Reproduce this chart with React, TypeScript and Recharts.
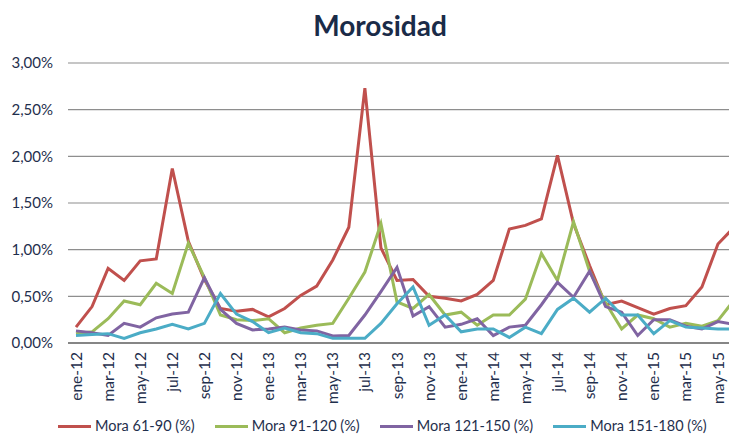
import React from "react";
import { LineChart, Line, XAxis, YAxis, CartesianGrid } from "recharts";

const months = [
  "ene-12","feb-12","mar-12","abr-12","may-12","jun-12","jul-12","ago-12","sep-12","oct-12","nov-12","dic-12",
  "ene-13","feb-13","mar-13","abr-13","may-13","jun-13","jul-13","ago-13","sep-13","oct-13","nov-13","dic-13",
  "ene-14","feb-14","mar-14","abr-14","may-14","jun-14","jul-14","ago-14","sep-14","oct-14","nov-14","dic-14",
  "ene-15","feb-15","mar-15","abr-15","may-15","jun-15",
];

const mora61 = [
  0.17, 0.39, 0.80, 0.67, 0.88, 0.90, 1.87, 1.09, 0.68, 0.37, 0.34, 0.36,
  0.28, 0.37, 0.51, 0.61, 0.89, 1.24, 2.73, 1.02, 0.67, 0.68, 0.50, 0.48,
  0.45, 0.52, 0.67, 1.22, 1.26, 1.33, 2.01, 1.28, 0.83, 0.41, 0.45, 0.38,
  0.31, 0.37, 0.40, 0.60, 1.06, 1.24,
];
const mora91 = [
  0.10, 0.12, 0.26, 0.45, 0.41, 0.64, 0.53, 1.07, 0.70, 0.30, 0.25, 0.24,
  0.26, 0.11, 0.16, 0.19, 0.21, 0.48, 0.76, 1.28, 0.44, 0.37, 0.52, 0.30,
  0.33, 0.19, 0.30, 0.30, 0.47, 0.96, 0.67, 1.30, 0.77, 0.43, 0.15, 0.30,
  0.26, 0.17, 0.21, 0.18, 0.24, 0.46,
];
const mora121 = [
  0.13, 0.11, 0.08, 0.21, 0.17, 0.27, 0.31, 0.33, 0.70, 0.36, 0.21, 0.14,
  0.15, 0.17, 0.14, 0.13, 0.075, 0.08, 0.30, 0.55, 0.81, 0.29, 0.39, 0.17,
  0.20, 0.26, 0.08, 0.17, 0.19, 0.41, 0.65, 0.49, 0.77, 0.39, 0.33, 0.08,
  0.25, 0.25, 0.18, 0.15, 0.23, 0.20,
];
const mora151 = [
  0.08, 0.09, 0.10, 0.05, 0.11, 0.15, 0.20, 0.15, 0.21, 0.53, 0.31, 0.23,
  0.11, 0.16, 0.11, 0.10, 0.05, 0.05, 0.05, 0.21, 0.42, 0.60, 0.19, 0.30,
  0.12, 0.15, 0.15, 0.06, 0.17, 0.10, 0.36, 0.48, 0.33, 0.48, 0.30, 0.30,
  0.10, 0.24, 0.17, 0.16, 0.15, 0.15,
];

const yTicks = [0, 0.5, 1, 1.5, 2, 2.5, 3];

const series = [
  { key: "m61", name: "Mora 61-90 (%)", color: "#C0504D", values: mora61 },
  { key: "m91", name: "Mora 91-120 (%)", color: "#9BBB59", values: mora91 },
  { key: "m121", name: "Mora 121-150 (%)", color: "#8064A2", values: mora121 },
  { key: "m151", name: "Mora 151-180 (%)", color: "#4BACC6", values: mora151 },
];

const data = months.map((m, i) => {
  const row: Record<string, any> = { month: m };
  series.forEach((s) => (row[s.key] = s.values[i]));
  return row;
});

const FONT = "Lato, 'Open Sans', sans-serif";
const TEXT = "#1F2F4D";

const XTick = (props: any) => {
  const { x, y, payload } = props;
  return (
    <text
      x={x}
      y={y}
      transform={`rotate(-90, ${x}, ${y})`}
      textAnchor="end"
      dy="0.36em"
      fill={TEXT}
      fontSize={15.5}
      fontFamily={FONT}
    >
      {payload.value}
    </text>
  );
};

const fmt = (v: number) => v.toFixed(2).replace(".", ",") + "%";

export default function App() {
  return (
    <div
      style={{
        position: "fixed",
        left: 0,
        top: 0,
        width: 729,
        height: 434,
        overflow: "hidden",
        background: "#fff",
        fontFamily: FONT,
      }}
    >
      <div
        style={{
          position: "absolute",
          left: 0,
          width: 760,
          top: 7,
          textAlign: "center",
          fontSize: 28,
          fontWeight: 700,
          color: "#1A2B48",
          lineHeight: "36px",
        }}
      >
        Morosidad
      </div>
      <div style={{ position: "absolute", left: 0, top: 0 }}>
        <LineChart
          width={742}
          height={434}
          data={data}
          margin={{ top: 63, right: 0, bottom: 0, left: 0 }}
        >
          <CartesianGrid vertical={false} stroke="#8E8E8E" strokeWidth={1.2} />
          <XAxis
            dataKey="month"
            interval={1}
            height={91}
            tickSize={0}
            tickMargin={9}
            tickLine={false}
            axisLine={{ stroke: "#868686", strokeWidth: 2 }}
            padding={{ left: 8, right: 8 }}
            tick={<XTick />}
          />
          <YAxis
            width={68}
            domain={[0, 3]}
            ticks={yTicks}
            tickFormatter={fmt}
            axisLine={false}
            tickLine={false}
            tickSize={0}
            tickMargin={15}
            tick={{ fill: TEXT, fontSize: 15, fontFamily: FONT }}
          />
          {series.map((s) => (
            <Line
              key={s.key}
              dataKey={s.key}
              name={s.name}
              stroke={s.color}
              strokeWidth={3}
              dot={false}
              activeDot={false}
              isAnimationActive={false}
            />
          ))}
        </LineChart>
      </div>
      <div
        style={{
          position: "absolute",
          left: 58,
          top: 416,
          display: "flex",
          alignItems: "center",
          fontSize: 14.5,
          color: TEXT,
          lineHeight: "20px",
          whiteSpace: "nowrap",
        }}
      >
        {series.map((s) => (
          <div key={s.key} style={{ display: "flex", alignItems: "center", marginRight: 20 }}>
            <div style={{ width: 33, height: 3, background: s.color, marginRight: 4 }} />
            <span>{s.name}</span>
          </div>
        ))}
      </div>
    </div>
  );
}
